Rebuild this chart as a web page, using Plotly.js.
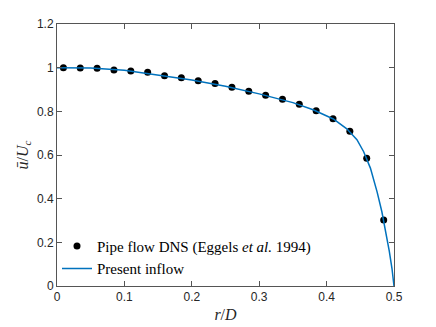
<!DOCTYPE html>
<html>
<head>
<meta charset="utf-8">
<script src="https://cdn.plot.ly/plotly-3.0.1.min.js"></script>
<style>
  html, body { margin: 0; padding: 0; background: #fff; }
  #plot { width: 436px; height: 327px; }
</style>
</head>
<body>
<div id="plot"></div>
<script>
// DNS data points (Eggels et al. 1994)
let dnsR = [0.0095, 0.0345, 0.0595, 0.0845, 0.1095, 0.1345, 0.1595, 0.1845, 0.2095, 0.2345,
            0.2595, 0.2845, 0.3095, 0.3345, 0.3595, 0.3845, 0.4095, 0.4345, 0.4595, 0.4847];
let dnsU = [1.000, 0.999, 0.997, 0.989, 0.985, 0.979, 0.963, 0.954, 0.940, 0.928,
            0.910, 0.892, 0.874, 0.855, 0.832, 0.803, 0.766, 0.709, 0.585, 0.302];

// present inflow profile
let inflowR = [0, 0.02, 0.05, 0.1, 0.15, 0.2, 0.25, 0.3, 0.35, 0.38, 0.41, 0.43,
               0.445, 0.455, 0.465, 0.475, 0.482, 0.488, 0.493, 0.497, 0.5];
let inflowU = [1.0, 1.0, 0.998, 0.988, 0.967, 0.943, 0.915, 0.880, 0.840, 0.807, 0.765, 0.72,
               0.67, 0.615, 0.54, 0.43, 0.34, 0.25, 0.16, 0.08, 0];

let serif = "Liberation Serif, DejaVu Serif, serif";
let sans = "Liberation Sans, Arial, sans-serif";
let axisColor = "#555555";

let trace1 = {
    x: dnsR,
    y: dnsU,
    type: "scatter",
    mode: "markers",
    name: "Pipe flow DNS (Eggels <i>et al.</i> 1994)",
    marker: {color: "#000000", size: 7}
};

let trace2 = {
    x: inflowR,
    y: inflowU,
    type: "scatter",
    mode: "lines",
    name: "Present inflow",
    line: {color: "#0072BD", width: 1.5}
};

let data = [trace1, trace2];

let axisCommon = {
    showgrid: false,
    zeroline: false,
    showline: true,
    linecolor: axisColor,
    linewidth: 1,
    mirror: "ticks",
    ticks: "inside",
    ticklen: 5,
    tickcolor: axisColor,
    tickfont: {family: sans, size: 12, color: "#262626"}
};

let layout = {
    width: 436,
    height: 327,
    margin: {l: 57, r: 42, t: 24, b: 41},
    paper_bgcolor: "#ffffff",
    plot_bgcolor: "#ffffff",
    showlegend: true,
    legend: {
        x: 0.0, y: 0.005,
        xanchor: "left", yanchor: "bottom",
        bgcolor: "rgba(255,255,255,0)",
        font: {family: serif, size: 15, color: "#000000"},
        tracegroupgap: 0,
        itemwidth: 30
    },
    xaxis: Object.assign({}, axisCommon, {
        range: [0, 0.5],
        tickvals: [0, 0.1, 0.2, 0.3, 0.4, 0.5],
        title: {text: "<i>r</i>/<i>D</i>", font: {family: serif, size: 16, color: "#262626"}, standoff: 5}
    }),
    yaxis: Object.assign({}, axisCommon, {
        range: [0, 1.2],
        tickvals: [0, 0.2, 0.4, 0.6, 0.8, 1, 1.2],
        title: {text: "<i>ū</i>/<i>U</i><sub><i>c</i></sub>", font: {family: serif, size: 16, color: "#262626"}, standoff: 4}
    })
};

Plotly.newPlot("plot", data, layout, {staticPlot: true});
</script>
</body>
</html>
